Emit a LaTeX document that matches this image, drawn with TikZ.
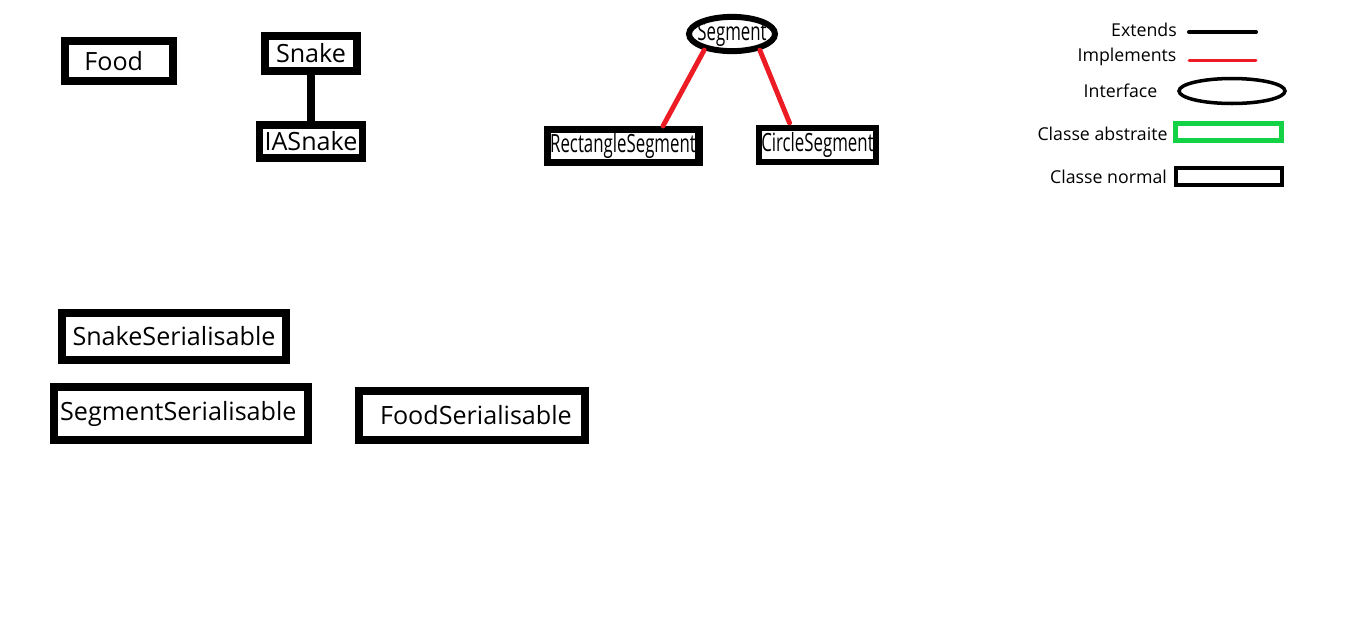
\documentclass[tikz,border=0pt]{standalone}
\usepackage{fontspec}
\usepackage{graphicx}
\usetikzlibrary{shapes.geometric}
\setmainfont{Open Sans}
\definecolor{implred}{RGB}{237,28,36}
\definecolor{abstgreen}{RGB}{20,210,70}
\newcommand{\bigtxt}{\fontsize{14.3}{17}\selectfont}
\newcommand{\smalltxt}{\fontsize{10.1}{12}\selectfont}
\newcommand{\narrow}[1]{\scalebox{.67}[1]{#1}}
\begin{document}
\begin{tikzpicture}[x=0.02cm,y=-0.02cm,
    classbox/.style={draw,line width=4.5pt,inner sep=0pt,font=\bigtxt},
    interface/.style={draw,ellipse,line width=3.4pt,inner sep=0pt,font=\bigtxt},
    extends/.style={line width=4.5pt},
    implements/.style={draw=implred,line width=2.8pt,line cap=round},
    legendtxt/.style={inner sep=0pt,font=\smalltxt}]
    \useasboundingbox (0,0) rectangle (1350,619);

    % classes
    \node[classbox,minimum width=2.16cm,minimum height=0.79cm] (food) at (119,61) {\hspace{-6pt}Food};
    \node[classbox,minimum width=1.84cm,minimum height=0.70cm] (snake) at (311,53.5) {Snake};
    \node[classbox,minimum width=2.06cm,minimum height=0.66cm] (iasnake) at (311,141.5) {IASnake};
    \draw[extends] (snake) -- (iasnake);

    % segment
    \node[interface,minimum width=1.72cm,minimum height=0.64cm] (segment) at (732,34) {\makebox[0pt]{\narrow{Segment}}};
    \node[classbox,line width=4pt,minimum width=3.04cm,minimum height=0.66cm] (rectseg) at (623,146) {\narrow{RectangleSegment}};
    \node[classbox,line width=3.6pt,minimum width=2.34cm,minimum height=0.68cm] (circseg) at (817.5,145) {\narrow{CircleSegment}};
    \draw[implements] (segment.210) -- ([shift={(40,0)}]rectseg.north);
    \draw[implements] (segment.330) -- ([shift={(-28,-2)}]circseg.north);

    % serialisation
    \node[classbox,minimum width=4.48cm,minimum height=0.94cm] (snakeser) at (174,336.5) {SnakeSerialisable};
    \node[classbox,minimum width=5.08cm,minimum height=1.06cm] (segser) at (181,413.5) {\hspace{-3pt}SegmentSerialisable};
    \node[classbox,minimum width=4.52cm,minimum height=0.98cm] (foodser) at (472,415.5) {\hspace{4.5pt}FoodSerialisable};

    % legend
    \node[legendtxt] (lext) at (1144,30) {Extends};
    \node[legendtxt] (limpl) at (1127,57) {Implements};
    \node[legendtxt] (linter) at (1120.5,91) {Interface};
    \node[legendtxt] (labst) at (1102.5,134) {Classe abstraite};
    \node[legendtxt] (lnorm) at (1108.5,177) {Classe normal};
    \coordinate (extA) at (1189,32);
    \coordinate (extB) at (1256,32);
    \coordinate (implA) at (1189,60.5);
    \coordinate (implB) at (1256,60.5);
    \draw[line width=2.3pt,line cap=round] (extA) -- (extB);
    \draw[implements,line width=1.7pt] (implA) -- (implB);
    \node[draw,ellipse,line width=2pt,minimum width=2.12cm,minimum height=0.50cm] (kinter) at (1232,91) {};
    \node[draw=abstgreen,line width=2.8pt,minimum width=2.12cm,minimum height=0.34cm] (kabst) at (1228.5,132) {};
    \node[draw,line width=2.3pt,minimum width=2.12cm,minimum height=0.34cm] (knorm) at (1229,176.5) {};

\end{tikzpicture}
\end{document}
